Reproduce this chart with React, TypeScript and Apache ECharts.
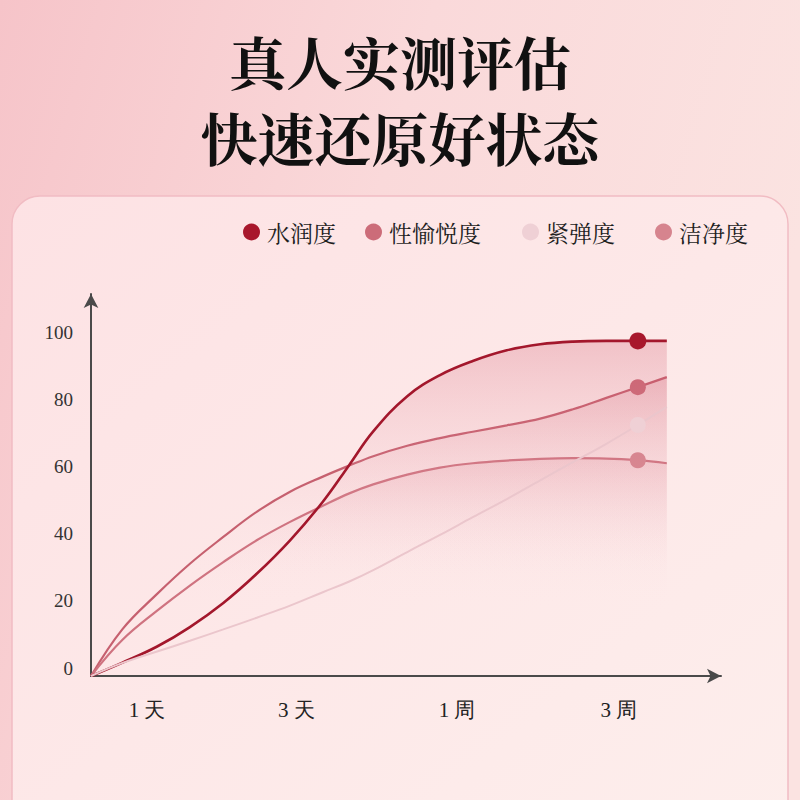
import React, { useEffect, useRef } from "react";
import * as echarts from "echarts";

// x positions of the sampled points (axis units, 0..100)
const X_POS = [0, 5, 10.5, 15.7, 21, 26.3, 31.6, 36.8, 41, 44.8, 50.2, 55.4, 60.6, 66, 71.3, 76.5, 81.8, 86.8, 91.4];
const MARK_INDEX = 17;

// series values
const HYDRATION = [0, 4, 8.8, 14.6, 21.8, 30.5, 40.5, 52, 63, 73, 83.5, 89.8, 94, 97.2, 99, 99.8, 100, 100, 100];
const PLEASURE = [0, 14, 24.5, 33.5, 41.5, 49, 55, 59.5, 62.8, 65.6, 68.7, 71, 72.9, 74.8, 76.8, 79.6, 83, 86.2, 89.2];
const FIRMNESS = [0, 3.9, 7.3, 10.5, 13.9, 17.4, 21, 25, 28.2, 31.6, 37, 42.1, 47.4, 52.8, 58.4, 63.8, 69.3, 74.9, 80.3];
const CLEANLINESS = [0, 10.8, 19.5, 27, 34, 40.5, 46, 50.8, 54.5, 57.2, 60.1, 62.2, 63.5, 64.3, 64.8, 65, 64.9, 64.4, 63.5];

const SERIES_NAMES = ["水润度", "性愉悦度", "紧弹度", "洁净度"];

// x-axis tick labels and where they sit on the axis
const X_LABELS = ["1 天", "3 天", "1 周", "3 周"];
const X_LABEL_AT = [8.9, 32.6, 58.1, 83.8];

// y-axis ticks
const Y_MIN = 0;
const Y_MAX = 114;
const Y_STEP = 20;

const TITLE_LINES = ["真人实测评估", "快速还原好状态"];

const CJK = '"Noto Serif CJK SC", "Noto Sans CJK SC", serif';
const SERIF = '"Liberation Serif", "DejaVu Serif", serif';

export default function App() {
  const ref = useRef<HTMLDivElement>(null);

  useEffect(() => {
    document.body.style.margin = "0";
    if (!ref.current) return;
    const chart = echarts.init(ref.current, undefined, { renderer: "svg" });

    const styles = [
      { marker: "#a8172c", line: "#a3172c", width: 2.6, size: 17, area: "rgba(200,60,85,0.32)", z: 4 },
      { marker: "#cc6c79", line: "#c6606f", width: 2.2, size: 16, area: "rgba(205,90,110,0.32)", z: 3 },
      { marker: "#efd0d5", line: "#ebc6cc", width: 2, size: 16, area: null, z: 5 },
      { marker: "#d6848e", line: "#cf7380", width: 2.2, size: 16, area: "rgba(210,100,120,0.22)", z: 3 },
    ];
    const values = [HYDRATION, PLEASURE, FIRMNESS, CLEANLINESS];

    const series = SERIES_NAMES.map((name, s) => {
      const st = styles[s];
      return {
        name,
        type: "line",
        smooth: 0.4,
        symbol: "none",
        showSymbol: true,
        z: st.z,
        itemStyle: { color: st.marker },
        lineStyle: { color: st.line, width: st.width },
        areaStyle: st.area
          ? {
              color: new echarts.graphic.LinearGradient(0, 0, 0, 1, [
                { offset: 0, color: st.area },
                { offset: 0.7, color: "rgba(255,235,238,0)" },
              ]),
            }
          : undefined,
        data: X_POS.map((x, i) =>
          i === MARK_INDEX
            ? { value: [x, values[s][i]], symbol: "circle", symbolSize: st.size, itemStyle: { color: st.marker } }
            : [x, values[s][i]]
        ),
      };
    });

    const legendLeft = [243, 365, 522, 655];
    const legend = SERIES_NAMES.map((name, i) => ({
      data: [name],
      left: legendLeft[i],
      top: 220,
      padding: 0,
      icon: "circle",
      itemWidth: 17,
      itemHeight: 17,
      textStyle: { fontFamily: CJK, fontSize: 23, color: "#1e1e1e", lineHeight: 24, padding: [0, 0, 0, 2] },
    }));

    const titleTop = [31, 107];
    const title = TITLE_LINES.map((t, i) => ({
      text: t,
      left: "center",
      top: titleTop[i],
      padding: 0,
      textStyle: { fontFamily: CJK, fontSize: 57, fontWeight: "bold", color: "#111", lineHeight: 57 },
    }));

    chart.setOption({
      animation: false,
      backgroundColor: new echarts.graphic.LinearGradient(0, 0, 1, 0.3, [
        { offset: 0, color: "#f6c4c9" },
        { offset: 0.5, color: "#fad9da" },
        { offset: 1, color: "#fbe3e1" },
      ]),
      title,
      graphic: [
        {
          type: "rect",
          z: -10,
          shape: { x: 12, y: 196, width: 776, height: 640, r: 28 },
          style: {
            fill: new echarts.graphic.LinearGradient(0, 0, 1, 1, [
              { offset: 0, color: "#fde2e4" },
              { offset: 1, color: "#fdeeec" },
            ]),
            stroke: "#f1bcc3",
            lineWidth: 1.5,
          },
        },
      ],
      legend,
      grid: { left: 91, top: 294, width: 630, height: 382 },
      xAxis: {
        type: "value",
        min: 0,
        max: 100,
        axisLine: {
          show: true,
          symbol: ["none", "arrow"],
          symbolSize: [11, 14],
          lineStyle: { color: "#4a4a4a", width: 2 },
        },
        axisTick: { show: false },
        splitLine: { show: false },
        axisLabel: {
          customValues: X_LABEL_AT,
          margin: 23,
          fontFamily: SERIF,
          fontSize: 21,
          color: "#222",
          formatter: (v: number) => {
            const k = X_LABEL_AT.findIndex((p) => Math.abs(p - v) < 1e-6);
            return k >= 0 ? X_LABELS[k] : "";
          },
        },
      },
      yAxis: {
        type: "value",
        min: Y_MIN,
        max: Y_MAX,
        interval: Y_STEP,
        axisLine: {
          show: true,
          symbol: ["none", "arrow"],
          symbolSize: [11, 14],
          lineStyle: { color: "#4a4a4a", width: 2 },
        },
        axisTick: { show: false },
        splitLine: { show: false },
        axisLabel: {
          margin: 18,
          fontFamily: SERIF,
          fontSize: 19,
          color: "#333",
          verticalAlign: "bottom",
          lineHeight: 16,
          showMaxLabel: false,
          formatter: (v: number) => (v % Y_STEP === 0 ? String(v) : ""),
        },
      },
      series,
    });

    return () => chart.dispose();
  }, []);

  return <div ref={ref} style={{ width: 800, height: 800 }} />;
}
